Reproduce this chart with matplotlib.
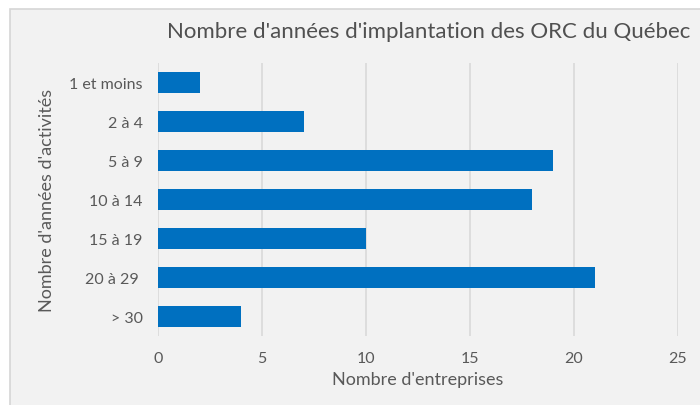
import matplotlib
matplotlib.use("Agg")
import matplotlib.pyplot as plt
from matplotlib.patches import Rectangle

categories = ["1 et moins", "2 à 4", "5 à 9", "10 à 14", "15 à 19", "20 à 29 ", "> 30"]
values = [2, 7, 19, 18, 10, 21, 4]
xticks = [0, 5, 10, 15, 20, 25]

title = "Nombre d'années d'implantation des ORC du Québec"
xlabel = "Nombre d'entreprises"
ylabel = "Nombre d'années d'activités"

plt.rcParams['font.family'] = ['Lato', 'DejaVu Sans']
text_color = "#595959"
bg = "#f2f2f2"

fig = plt.figure(figsize=(7, 4.06), dpi=100, facecolor="white")
bgax = fig.add_axes([0, 0, 1, 1], zorder=-10)
bgax.set_axis_off()
bgax.set_xlim(0, 1)
bgax.set_ylim(0, 1)
bgax.add_patch(Rectangle((10 / 700, -0.01), 1, 1 - 10 / 406 + 0.01,
                         facecolor=bg, edgecolor="#d6d6d6", linewidth=1.2))

ax = fig.add_axes([158 / 700, 1 - 337 / 406, 520 / 700, 273 / 406])
ax.set_facecolor(bg)

pos = list(range(len(categories)))
ax.barh(pos, values, height=0.56, color="#0070C0", zorder=3)
ax.set_ylim(len(categories) - 0.5, -0.5)
ax.set_xlim(0, 25)
ax.set_xticks(xticks)
ax.set_yticks(pos)
ax.set_yticklabels(categories)
ax.grid(axis="x", color="#d9d9d9", linewidth=1.2, zorder=0)
ax.grid(axis="y", visible=False)
ax.set_axisbelow(True)
for s in ax.spines.values():
    s.set_visible(False)
ax.tick_params(axis="both", length=0, labelsize=11.5, colors=text_color)
ax.tick_params(axis="x", pad=11)
ax.tick_params(axis="y", pad=11)

ax.set_xlabel(xlabel, fontsize=13, color=text_color, labelpad=4)
ax.set_ylabel(ylabel, fontsize=13, color=text_color, labelpad=10)
fig.text(429 / 700, 1 - 32 / 406, title, ha="center", va="center",
         fontsize=16, color="#505050")

fig.savefig("out.png", dpi=100, facecolor=fig.get_facecolor())
